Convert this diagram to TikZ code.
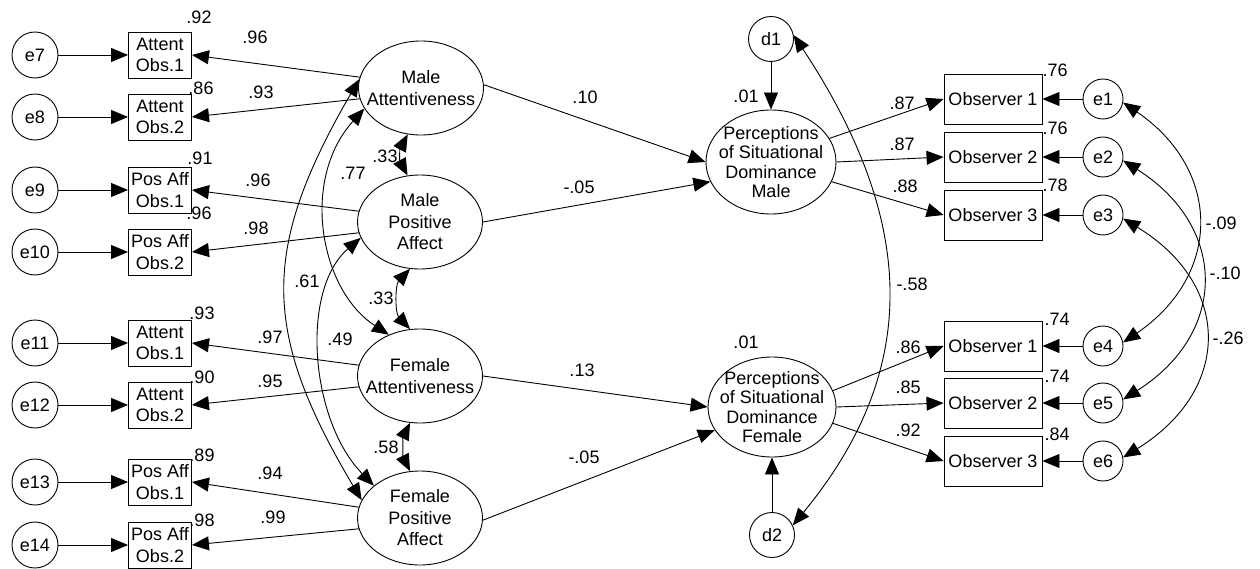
\documentclass[tikz,border=0pt]{standalone}
\usepackage{fontspec}
\setmainfont{Liberation Sans}
\usetikzlibrary{shapes.geometric,arrows.meta}
\begin{document}
\begin{tikzpicture}[x=1pt,y=-1pt,
  every node/.style={font=\fontsize{18}{21.5}\selectfont},
  line/.style={line width=0.9pt},
  >={Triangle[length=17pt,width=14pt]},
  errc/.style={circle,draw,line width=0.9pt,minimum size=46pt,inner sep=0pt},
  errs/.style={circle,draw,line width=0.9pt,minimum size=40pt,inner sep=0pt},
  dist/.style={circle,draw,line width=0.9pt,minimum size=45pt,inner sep=0pt},
  ind/.style={rectangle,draw,line width=0.9pt,minimum width=63pt,minimum height=46pt,inner sep=0pt,align=center},
  obs/.style={rectangle,draw,line width=0.9pt,minimum width=98pt,minimum height=50pt,inner sep=0pt},
  latent/.style={ellipse,draw,line width=0.9pt,minimum width=125pt,minimum height=94pt,inner sep=0pt},
  num/.style={inner sep=0pt},
]
\useasboundingbox (0,0) rectangle (1260,569);

% ---------- left: indicators and their errors ----------
\node[errc] (e7)  at (35,55)  {e7};
\node[errc] (e8)  at (35,117) {e8};
\node[errc] (e9)  at (35,190) {e9};
\node[errc] (e10) at (35,252) {e10};
\node[errc] (e11) at (35,343) {e11};
\node[errc] (e12) at (35,405) {e12};
\node[errc] (e13) at (35,482) {e13};
\node[errc] (e14) at (35,545) {e14};

\node[ind] (b7)  at (160,55)  {Attent\\Obs.1};
\node[ind] (b8)  at (160,117) {Attent\\Obs.2};
\node[ind] (b9)  at (160,190) {Pos Aff\\Obs.1};
\node[ind] (b10) at (160,252) {Pos Aff\\Obs.2};
\node[ind] (b11) at (160,343) {Attent\\Obs.1};
\node[ind] (b12) at (160,405) {Attent\\Obs.2};
\node[ind] (b13) at (160,482) {Pos Aff\\Obs.1};
\node[ind] (b14) at (160,545) {Pos Aff\\Obs.2};

\foreach \i in {7,...,14} { \draw[line,->] (e\i) -- (b\i); }

% ---------- latent factors ----------
\node[latent,label={[align=center]center:{Male\\Attentiveness}}] (MA) at (421,88) {};
\node[latent,label={[align=center]center:{Male\\Positive\\Affect}}] (MPA) at (420,222) {};
\node[latent,label={[align=center]center:{Female\\Attentiveness}}] (FA) at (420,376) {};
\node[latent,label={[align=center]center:{Female\\Positive\\Affect}}] (FPA) at (420,518) {};

% loadings
\draw[line,->] (MA.170)  -- (b7.east);
\draw[line,->] (MA.190)  -- (b8.east);
\draw[line,->] (MPA.170) -- (b9.east);
\draw[line,->] (MPA.190) -- (b10.east);
\draw[line,->] (FA.170)  -- (b11.east);
\draw[line,->] (FA.190)  -- (b12.east);
\draw[line,->] (FPA.170) -- (b13.east);
\draw[line,->] (FPA.190) -- (b14.east);

% factor correlations
\draw[line,<->] (MA.254) .. controls +(-8,15) and +(-8,-15) .. (MPA.105);
\draw[line,<->] (MPA.258) .. controls +(-15,16) and +(-15,-16) .. (FA.102);
\draw[line,<->] (FA.258) .. controls +(-7,14) and +(-7,-14) .. (FPA.102);
\draw[line,<->] (MA.172) .. controls (261,249) and (261,331) .. (FPA.163);
\draw[line,<->] (MA.200) .. controls (300,180) and (320,290) .. (FA.127);
\draw[line,<->] (MPA.195) .. controls (300,290) and (310,420) .. (FPA.145);

% ---------- outcomes ----------
\node[latent,minimum width=130pt,minimum height=104pt,
      label={[align=center,font=\fontsize{18}{19.3}\selectfont]center:{Perceptions\\of Situational\\Dominance\\Male}}] (PM) at (771,162) {};
\node[latent,minimum width=128pt,minimum height=100pt,
      label={[align=center,font=\fontsize{18}{19.3}\selectfont]center:{Perceptions\\of Situational\\Dominance\\Female}}] (PF) at (772,407) {};
\node[dist] (d1) at (771,39)  {d1};
\node[dist] (d2) at (772,535) {d2};

\draw[line,->] (d1) -- (PM);
\draw[line,->] (d2) -- (PF);
\draw[line,<->] (d1.10) .. controls (919,225) and (919,372) .. (d2.25);

\draw[line,->] (MA.3)  -- (PM.180);
\draw[line,->] (MPA.0) -- (PM.198);
\draw[line,->] (FA.0)  -- (PF.180);
\draw[line,->] (FPA.-2) -- (PF.202);

\node[obs] (o1) at (993,99)  {Observer 1};
\node[obs] (o2) at (993,157) {Observer 2};
\node[obs] (o3) at (993,215) {Observer 3};
\node[obs] (o4) at (993,346) {Observer 1};
\node[obs] (o5) at (993,403) {Observer 2};
\node[obs] (o6) at (993,461) {Observer 3};

\draw[line,->] (PM.22)  -- (o1.west);
\draw[line,->] (PM.0)   -- (o2.west);
\draw[line,->] (PM.-18) -- (o3.west);
\draw[line,->] (PF.15)  -- (o4.west);
\draw[line,->] (PF.0)   -- (o5.west);
\draw[line,->] (PF.-15) -- (o6.west);

\node[errs] (e1) at (1103,99)  {e1};
\node[errs] (e2) at (1103,157) {e2};
\node[errs] (e3) at (1103,215) {e3};
\node[errs] (e4) at (1103,346) {e4};
\node[errs] (e5) at (1103,403) {e5};
\node[errs] (e6) at (1103,461) {e6};

\foreach \i in {1,...,6} { \draw[line,->] (e\i) -- (o\i); }

\draw[line,<->] (e1.-10) .. controls (1222,170) and (1222,275) .. (e4.10);
\draw[line,<->] (e2.-10) .. controls (1228,227) and (1228,333) .. (e5.10);
\draw[line,<->] (e3.-10) .. controls (1232,285) and (1232,390) .. (e6.10);

% ---------- estimates ----------
\node[num] (r7)  at (199,17)  {.92};
\node[num] (r8)  at (201,88)  {.86};
\node[num] (r9)  at (200,158) {.91};
\node[num] (r10) at (199,213) {.96};
\node[num] (r11) at (202,313) {.93};
\node[num] (r12) at (202,377) {.90};
\node[num] (r13) at (202,455) {.89};
\node[num] (r14) at (202,520) {.98};

\node[num] (l7)  at (255,37)  {.96};
\node[num] (l8)  at (261,92)  {.93};
\node[num] (l9)  at (258,180) {.96};
\node[num] (l10) at (256,228) {.98};
\node[num] (l11) at (270,337) {.97};
\node[num] (l12) at (270,381) {.95};
\node[num] (l13) at (270,473) {.94};
\node[num] (l14) at (273,517) {.99};

\node[num] (p1) at (585,97)  {.10};
\node[num] (p2) at (579,187) {-.05};
\node[num] (p3) at (582,370) {.13};
\node[num] (p4) at (584,457) {-.05};

\node[num] (c1) at (385,156) {.33};
\node[num] (c2) at (353,173) {.77};
\node[num] (c3) at (307,281) {.61};
\node[num] (c4) at (381,298) {.33};
\node[num] (c5) at (340,339) {.49};
\node[num] (c6) at (386,447) {.58};

\node[num] (s1) at (746,96)  {.01};
\node[num] (s2) at (746,342) {.01};

\node[num] (k1) at (902,103) {.87};
\node[num] (k2) at (902,144) {.87};
\node[num] (k3) at (905,186) {.88};
\node[num] (k4) at (908,347) {.86};
\node[num] (k5) at (908,387) {.85};
\node[num] (k6) at (908,430) {.92};

\node[num] (q1) at (1055,70)  {.76};
\node[num] (q2) at (1055,128) {.76};
\node[num] (q3) at (1055,185) {.78};
\node[num] (q4) at (1057,319) {.74};
\node[num] (q5) at (1057,376) {.74};
\node[num] (q6) at (1057,434) {.84};

\node[num] (v1) at (912,284)  {-.58};
\node[num] (v2) at (1221,223) {-.09};
\node[num] (v3) at (1225,273) {-.10};
\node[num] (v4) at (1228,338) {-.26};
\end{tikzpicture}
\end{document}
